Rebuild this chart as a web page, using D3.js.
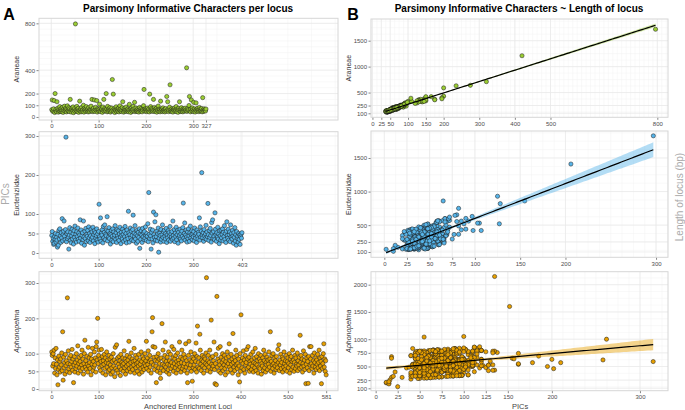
<!DOCTYPE html>
<html><head><meta charset="utf-8">
<script src="https://cdn.jsdelivr.net/npm/d3@7"></script>
<style>body{margin:0;background:#fff} svg{display:block;font-family:"Liberation Sans",Arial,sans-serif}</style>
</head><body><svg id="c" width="685" height="410"></svg>
<script>
// ---------- DATA ----------
const taxa = ["Araneae", "Eucteniziidae", "Aphonopelma"];
const araneaePICs = [
62,145,48,55,70,140,38,200,52,66,44,130,58,75,41,63,50,88,47,60,
72,45,57,83,39,68,54,92,49,61,76,43,66,95,51,58,80,46,70,150,
55,42,64,78,50,86,37,59,71,48,795,62,53,90,45,67,74,40,58,135,
52,69,44,81,57,48,63,100,41,73,56,65,47,88,60,51,70,43,79,55,
46,67,58,92,50,150,62,45,75,54,145,48,66,83,57,140,42,71,60,50,
64,110,53,46,77,59,68,40,85,56,150,49,73,61,52,200,66,44,90,58,
47,69,55,80,42,63,51,76,320,57,195,48,70,38,62,54,87,45,66,59,
50,74,43,61,95,52,68,46,58,79,130,55,41,72,49,64,57,84,47,62,
53,70,44,60,108,51,66,39,75,56,48,63,90,52,69,125,45,58,77,50,
61,46,71,55,42,65,82,49,59,73,53,44,67,57,96,235,62,48,70,54,
64,45,76,58,51,68,43,195,60,88,49,72,55,63,47,150,57,81,46,66,
52,74,41,61,56,93,48,67,59,44,135,53,70,62,46,78,55,50,65,43,
60,72,49,175,57,130,68,45,58,84,275,51,63,47,71,55,42,66,59,76,
48,62,54,89,45,67,56,40,73,58,130,50,64,46,79,53,61,44,70,57,
49,66,75,52,60,420,47,71,55,63,98,175,58,44,68,145,51,77,61,46,
125,54,69,42,59,120,65,48,74,56,62,45,81,53,67,50,58,72,44,165,
60,47,70,55,63,51,68];
const araneaeLength = [
195,380,140,205,190,330,150,590,150,225,130,360,165,240,125,200,170,225,160,210,
215,135,200,250,120,220,160,300,145,195,205,150,230,240,170,165,260,140,185,340,
180,125,175,245,170,220,135,210,190,160,1720,205,150,280,150,185,230,140,190,370,
170,210,135,240,185,140,215,330,130,200,190,175,160,265,170,180,225,130,230,175,
155,185,200,270,145,400,195,150,225,175,340,165,205,255,160,320,140,215,180,170,
200,330,175,140,240,190,185,150,260,180,420,160,220,190,150,430,210,135,290,185,
145,220,180,235,130,200,165,240,710,185,400,155,210,135,190,170,255,150,215,180,
165,225,145,195,290,150,210,155,185,230,350,175,140,215,160,195,180,250,155,200,
170,215,150,190,390,165,200,140,235,180,160,195,270,165,210,300,150,185,225,160,
190,150,220,175,145,205,245,160,185,225,170,150,200,185,300,630,195,155,210,175,
205,150,230,180,165,210,145,380,190,260,160,215,175,200,155,360,180,240,150,205,
165,225,140,190,180,280,160,205,185,150,330,170,215,195,150,240,175,165,200,145,
190,220,160,370,180,340,210,150,185,250,640,165,195,155,215,175,145,200,180,230,
155,195,170,270,150,205,180,140,220,180,320,160,200,150,235,170,190,145,210,175,
160,200,225,165,185,1210,155,215,175,195,310,360,180,150,205,330,165,230,190,150,
340,170,210,145,185,290,200,160,220,175,190,150,240,170,200,160,180,215,145,420,
185,155,205,175,195,165,210];
const eucteniziidaePICs = [
45,55,30,38,22,25,42,35,50,28,40,33,15,48,20,58,36,62,44,27,
52,39,88,31,47,56,82,43,34,60,297,29,49,37,54,41,10,46,65,32,
53,26,44,61,36,50,23,57,40,69,33,48,28,55,42,64,35,51,30,46,
85,38,59,25,45,52,34,82,41,20,56,37,63,29,48,43,58,32,67,39,
50,27,44,61,35,54,40,66,31,47,57,24,52,38,45,62,33,49,28,55,
125,42,36,90,30,51,46,60,26,68,39,53,72,34,48,44,59,93,31,56,
41,65,37,50,23,47,58,33,43,62,29,54,39,46,70,35,52,27,60,44,
38,57,32,49,66,41,24,53,45,36,61,48,30,55,42,68,34,50,26,59,
43,37,107,52,28,47,64,39,56,33,45,60,97,31,51,42,70,36,48,25,
58,44,30,53,40,62,12,49,35,57,46,27,63,41,52,34,55,38,67,45,
32,50,43,75,29,155,48,37,61,44,10,53,36,59,26,105,47,40,80,33,
98,42,56,31,49,64,2,38,51,45,28,60,35,47,72,40,54,30,58,43,
36,50,63,27,46,39,57,33,52,44,68,30,48,41,55,35,82,45,38,60,
29,51,42,66,34,47,58,25,53,40,45,61,36,49,31,56,43,65,128,38,
50,77,33,46,59,41,28,54,37,62,44,30,52,69,39,47,57,34,48,42,
55,31,64,45,38,50,27,59,43,36,53,48,90,33,67,41,56,206,46,39,
52,30,60,44,37,49,71,35,54,42,127,47,32,58,40,63,45,28,78,51,
85,38,55,43,34,103,61,47,30,52,41,66,36,49,24,57,44,33,59,39,
48,62,31,53,42,70,35,50,27,56,80,45,38,61,33,47,54,29,72,41,
50,36,58,44,25,52,40,65,31,47,20,55,38,43,28,50,35,46,22,42,
48,38,52];
const eucteniziidaeLength = [
434,267,279,133,275,208,471,161,345,180,382,140,170,296,346,299,290,287,499,191,
464,198,520,160,382,341,750,195,276,318,1830,170,371,249,492,226,110,218,860,213,
468,142,339,232,335,315,389,255,302,357,352,156,280,327,441,325,286,239,439,273,
560,193,404,150,374,324,436,363,306,146,451,150,431,215,466,235,384,158,598,243,
455,146,339,232,331,332,462,294,263,262,455,140,384,253,454,317,277,231,430,312,
930,211,305,600,309,319,488,268,242,352,378,178,470,236,466,239,389,560,443,316,
416,310,309,185,279,302,539,152,315,327,335,182,328,288,561,201,359,136,568,264,
403,275,288,181,464,276,393,238,324,215,472,156,289,327,441,342,281,235,422,329,
425,189,420,194,300,302,565,178,371,202,404,208,630,223,479,231,436,175,516,183,
489,219,279,198,352,367,200,221,281,305,408,140,431,266,484,196,372,183,598,269,
378,245,335,293,305,860,496,169,392,249,150,178,315,344,372,530,337,192,654,217,
420,211,391,160,391,375,140,173,349,254,330,208,311,292,570,222,367,149,559,260,
395,245,421,150,378,268,535,152,354,249,502,150,366,266,497,201,488,214,473,333,
365,249,331,254,326,302,539,150,358,232,404,212,315,301,393,291,320,300,820,238,
455,361,292,168,434,276,410,242,289,327,399,150,384,387,428,252,380,166,516,256,
477,163,425,164,343,315,406,264,315,215,438,156,440,232,548,226,376,1410,508,243,
464,159,408,159,339,311,595,161,362,241,520,152,298,339,432,321,329,140,645,294,
430,193,387,155,326,530,552,212,259,284,386,234,315,301,363,295,324,162,564,243,
446,297,283,198,361,401,441,225,246,301,554,144,323,352,402,252,367,145,620,251,
455,185,399,159,288,324,462,290,263,262,296,187,323,275,380,265,286,218,405,256,
446,193,374];
const aphonopelmaPICs = [
105,95,65,100,72,110,45,88,58,115,70,40,82,12,55,93,62,78,48,85,
68,102,52,162,25,90,60,75,42,98,66,80,50,258,72,108,57,88,46,70,
95,62,78,112,53,85,18,68,92,48,75,58,100,65,82,122,45,72,90,60,
78,52,95,68,110,58,85,42,72,100,138,62,80,55,92,70,48,118,65,88,
75,58,98,40,85,70,115,52,78,62,105,68,88,48,120,133,82,200,72,95,
110,60,85,52,78,112,66,92,45,80,70,98,58,88,40,75,105,62,82,50,
72,95,55,85,68,42,90,60,78,48,100,65,82,35,118,58,75,125,52,88,
45,70,92,62,80,38,98,55,75,68,88,50,72,108,60,85,42,78,65,95,
52,82,70,135,58,90,48,75,102,62,85,55,78,68,115,45,80,95,60,72,
88,50,75,65,98,42,82,70,58,105,78,48,92,62,85,55,72,100,66,80,
135,58,88,70,108,52,78,95,62,82,45,75,162,202,120,68,90,55,118,80,
65,18,92,50,78,100,60,85,72,45,30,88,58,185,70,110,52,82,66,95,
133,62,78,48,90,70,55,105,42,80,68,98,58,75,120,65,88,50,112,72,
85,60,95,45,78,68,102,55,82,72,133,62,90,48,75,110,58,85,65,98,
72,52,88,128,62,80,45,18,70,95,135,58,82,68,105,50,78,22,90,60,
85,68,100,55,78,130,48,92,178,62,75,88,58,155,110,70,52,82,95,65,
78,45,90,60,85,72,102,315,68,52,80,95,62,75,110,48,88,195,70,58,
92,65,80,133,55,15,72,98,12,262,62,85,115,50,78,68,120,45,90,60,
75,100,52,82,68,95,58,40,78,88,65,105,48,72,92,128,62,80,55,98,
70,85,45,157,75,62,90,52,80,110,68,95,58,72,40,85,65,20,100,50,
210,78,60,88,72,108,55,82,45,95,68,75,112,58,85,120,62,90,50,78,
70,98,55,82,65,105,48,75,88,60,115,72,52,92,68,80,45,100,62,85,
58,78,95,42,72,65,88,52,110,80,60,98,48,75,68,90,55,82,70,105,
62,85,162,50,78,95,68,58,100,72,45,88,65,80,55,92,70,60,112,75,
125,52,82,68,98,58,75,90,48,85,62,105,72,55,80,65,95,50,78,88,
60,72,100,45,85,68,92,55,78,110,62,82,50,75,95,58,88,70,65,102,
52,80,68,90,58,152,75,95,62,85,48,72,108,65,82,55,98,15,70,88,
60,78,16,92,52,120,68,85,120,72,58,95,65,80,45,102,75,62,88,55,
82,70,98,60,75,110,52,88,65,78,15,92,58,72,100,128,62,85,50,80,
40];
const aphonopelmaLength = [
746,464,588,390,646,572,744,416,550,528,674,268,628,200,716,482,564,424,778,512,
702,472,572,740,130,548,762,400,530,508,669,316,590,620,736,500,558,436,775,494,
734,424,604,404,624,542,680,392,590,448,680,290,650,508,748,516,544,416,828,482,
714,412,624,352,692,510,792,830,566,510,756,294,626,1040,760,454,548,472,798,516,
710,420,628,318,662,524,828,372,574,464,716,302,636,488,794,530,588,630,806,524,
752,422,612,332,654,574,769,420,534,486,674,338,600,536,698,460,616,404,818,470,
706,464,576,372,642,490,798,382,574,448,1050,298,628,472,792,440,580,480,782,516,
674,434,620,344,656,486,808,376,570,472,696,280,616,560,722,472,540,424,798,524,
682,448,594,432,630,548,748,400,602,464,692,286,624,512,788,424,586,444,792,496,
726,410,600,348,678,490,788,394,550,516,684,278,640,504,752,436,576,450,799,506,
782,420,616,354,690,502,784,424,554,488,644,310,540,460,794,452,598,396,862,506,
698,650,620,330,654,560,762,412,566,444,300,326,600,690,734,502,552,428,799,524,
780,424,604,328,668,524,756,436,530,486,672,338,600,520,794,448,596,390,854,496,
722,422,624,324,654,522,812,376,578,476,750,294,638,488,740,502,560,432,798,528,
706,412,616,424,634,536,744,300,564,504,2150,290,628,512,776,430,584,400,828,482,
722,432,630,336,654,596,748,420,570,464,680,326,600,650,782,454,552,428,834,488,
714,404,618,342,662,526,812,590,562,452,686,334,604,520,782,428,596,500,804,480,
730,428,606,430,626,190,776,428,210,1000,664,322,668,490,744,452,634,384,828,482,
710,470,572,368,642,554,760,358,574,496,668,346,588,516,760,524,564,426,786,528,
704,452,564,640,650,514,798,372,576,522,672,334,600,516,698,472,568,320,840,470,
570,444,582,376,646,570,756,408,534,504,672,310,664,500,752,514,564,438,780,504,
704,468,576,368,638,566,748,400,586,462,728,306,592,540,732,466,544,450,794,512,
690,444,624,320,646,518,796,372,612,486,662,338,588,520,732,478,556,428,804,536,
694,452,550,330,654,554,772,380,600,476,644,326,608,526,716,480,574,402,854,500,
770,412,608,352,678,510,780,418,538,492,664,346,616,496,746,448,604,390,814,516,
692,436,630,324,662,522,800,376,574,522,664,318,590,520,764,440,596,414,798,532,
682,446,592,378,630,1600,780,424,554,492,648,306,660,508,748,436,608,180,804,516,
692,444,250,380,622,584,772,412,624,476,660,334,608,526,704,492,580,404,826,476,
718,434,628,342,650,572,752,416,558,484,220,330,600,516,770,524,564,432,780,506,
390];
// tick labels
const leftXTicks = [[0,100,200,300,327],[0,100,200,300,403],[0,100,200,300,400,500,581]];
const leftYTicks = [[0,100,200,400,800],[0,50,100,200,300],[0,50,100,200,300]];
const rightXTicks = [[0,25,50,100,150,200,300,400,500,800],[0,25,50,75,100,150,200,300],[0,25,50,75,100,125,150,200,300]];
const rightYTicks = [[100,250,500,1000,1500],[100,250,500,1000,1500],[100,250,500,750,1000,1500,2000]];
const pointColors = ["#9ACD32", "#56B4E9", "#E69F00"];
const titleA = "Parsimony Informative Characters per locus";
const titleB = "Parsimony Informative Characters ~ Length of locus";

// ---------- LAYOUT ----------
const svg = d3.select("#c");
const pics = [araneaePICs, eucteniziidaePICs, aphonopelmaPICs];
const lens = [araneaeLength, eucteniziidaeLength, aphonopelmaLength];

const leftX = [39, 338], rightX = [371, 668];
const rowsL = [[120,18.3],[258.3,131.7],[390.7,271.7]];
const rowsR = [[117.3,19],[257.3,131],[390.7,271.7]];
const leftXDom = [-26, 606];
const leftYDom = [[-26,843],[-13.6,311],[-4.8,332]];
const rightXDom = [[-4,830],[-14.7,313.2],[-5.3,331.8]];
const rightYDom = [[23,1918],[21,1902],[56,2238]];

function gridVals(dom, step){ const out=[]; for(let v=Math.ceil(dom[0]/step)*step; v<=dom[1]; v+=step) out.push(v); return out; }

function panel(xs, ys, xTicks, yTicks, xStep, yStep){
  const g = svg.append("g");
  const [x0,x1]=xs.range(), [y0,y1]=ys.range();
  g.append("rect").attr("x",x0).attr("y",y1).attr("width",x1-x0).attr("height",y0-y1).attr("fill","#fff");
  gridVals(xs.domain(), xStep/2).forEach(v=>g.append("line").attr("x1",xs(v)).attr("x2",xs(v)).attr("y1",y0).attr("y2",y1).attr("stroke","#f2f2f2").attr("stroke-width",0.5));
  gridVals(ys.domain(), yStep/2).forEach(v=>g.append("line").attr("y1",ys(v)).attr("y2",ys(v)).attr("x1",x0).attr("x2",x1).attr("stroke","#f2f2f2").attr("stroke-width",0.5));
  xTicks.forEach(v=>g.append("line").attr("x1",xs(v)).attr("x2",xs(v)).attr("y1",y0).attr("y2",y1).attr("stroke","#e8e8e8").attr("stroke-width",0.7));
  yTicks.forEach(v=>g.append("line").attr("y1",ys(v)).attr("y2",ys(v)).attr("x1",x0).attr("x2",x1).attr("stroke","#e8e8e8").attr("stroke-width",0.7));
  const ax = g.append("g").attr("transform",`translate(0,${y0})`).call(d3.axisBottom(xs).tickValues(xTicks).tickSize(2.5).tickPadding(1.5).tickFormat(d3.format("d")));
  const ay = g.append("g").attr("transform",`translate(${x0},0)`).call(d3.axisLeft(ys).tickValues(yTicks).tickSize(2.5).tickPadding(1.5).tickFormat(d3.format("d")));
  [ax,ay].forEach(a=>{a.select(".domain").remove(); a.selectAll("line").attr("stroke","#333").attr("stroke-width",0.6); a.selectAll("text").attr("fill","#4d4d4d").attr("font-size","6px").attr("font-family","Liberation Sans, Arial, sans-serif");});
  return g;
}
function border(g, xs, ys){
  const [x0,x1]=xs.range(), [y0,y1]=ys.range();
  g.append("rect").attr("x",x0).attr("y",y1).attr("width",x1-x0).attr("height",y0-y1).attr("fill","none").attr("stroke","#d6d6d6").attr("stroke-width",1);
}
function dots(g, data, xs, ys, col){
  g.append("g").selectAll("circle").data(data).join("circle")
   .attr("cx",d=>xs(d[0])).attr("cy",d=>ys(d[1])).attr("r",2.1)
   .attr("fill",col).attr("stroke","#1a1a1a").attr("stroke-width",0.5);
}
function fit(xv, yv){
  const n=xv.length, mx=d3.mean(xv), my=d3.mean(yv);
  let sxx=0,sxy=0; for(let i=0;i<n;i++){sxx+=(xv[i]-mx)**2; sxy+=(xv[i]-mx)*(yv[i]-my);}
  const b=sxy/sxx, a=my-b*mx;
  let sse=0; for(let i=0;i<n;i++) sse+=(yv[i]-a-b*xv[i])**2;
  const s=Math.sqrt(sse/(n-2));
  return {a,b,s,n,mx,sxx};
}
function label(x,y,txt,opts){
  const t=svg.append("text").attr("transform",`translate(${x},${y})${opts.rot?" rotate(-90)":""}`).attr("text-anchor","middle").attr("dominant-baseline","central").text(txt)
    .attr("font-size",opts.size+"px").attr("fill",opts.fill||"#333");
  if(opts.bold) t.attr("font-weight","bold");
  if(opts.italic) t.attr("font-style","italic");
  return t;
}

for(let k=0;k<3;k++){
  const xs = d3.scaleLinear().domain(leftXDom).range(leftX);
  const ys = d3.scaleLinear().domain(leftYDom[k]).range(rowsL[k]);
  const g = panel(xs, ys, leftXTicks[k], leftYTicks[k], 100, k===0?100:50);
  dots(g, pics[k].map((v,i)=>[i+1,v]), xs, ys, pointColors[k]);
  border(g, xs, ys);
  label(16, (rowsL[k][0]+rowsL[k][1])/2, taxa[k], {rot:true,size:7,italic:k===2});

  const xr = d3.scaleLinear().domain(rightXDom[k]).range(rightX);
  const yr = d3.scaleLinear().domain(rightYDom[k]).range(rowsR[k]);
  const gr = panel(xr, yr, rightXTicks[k], rightYTicks[k], rightXTicks[k][2]-rightXTicks[k][1], 250);
  const pts = pics[k].map((v,i)=>[v, lens[k][i]]);
  dots(gr, pts, xr, yr, pointColors[k]);
  const f = fit(pics[k], lens[k]);
  const [mn,mxv] = d3.extent(pics[k]);
  const xsamp = d3.range(0,101).map(i=>mn+(mxv-mn)*i/100);
  const tq = 1.965;
  const band = xsamp.map(x=>{const yh=f.a+f.b*x; const se=f.s*Math.sqrt(1/f.n+(x-f.mx)**2/f.sxx); return [x,yh-tq*se,yh+tq*se];});
  gr.append("path").datum(band).attr("d",d3.area().x(d=>xr(d[0])).y0(d=>yr(d[1])).y1(d=>yr(d[2])))
    .attr("fill",pointColors[k]).attr("fill-opacity",0.45);
  gr.append("path").datum(xsamp).attr("d",d3.line().x(d=>xr(d)).y(d=>yr(f.a+f.b*d)))
    .attr("fill","none").attr("stroke","#000").attr("stroke-width",1.2);
  border(gr, xr, yr);
  label(348, (rowsR[k][0]+rowsR[k][1])/2, taxa[k], {rot:true,size:7,italic:k===2});
}

label(9, 14, "A", {size:16,bold:true,fill:"#000"});
label(353, 14, "B", {size:16,bold:true,fill:"#000"});
label(188, 8, titleA, {size:10,bold:true,fill:"#000"});
label(519, 8, titleB, {size:10,bold:true,fill:"#000"});
label(5, 194, "PICs", {rot:true,size:10,fill:"#aaa"});
label(679, 197, "Length of locus (bp)", {rot:true,size:10,fill:"#aaa"});
label(188, 406, "Anchored Enrichment Loci", {size:7.5,fill:"#444"});
label(520, 406, "PICs", {size:7.5,fill:"#444"});
</script>
</body></html>
